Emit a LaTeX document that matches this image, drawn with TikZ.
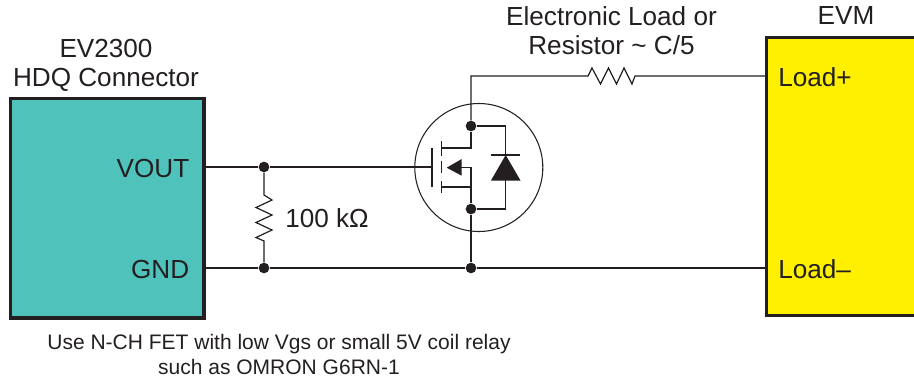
\documentclass[tikz,border=0pt]{standalone}
\usepackage{fontspec}
\setmainfont{Liberation Sans}
\definecolor{ink}{HTML}{231F20}
\definecolor{tealbox}{HTML}{50C2BC}
\definecolor{yellowbox}{HTML}{FFF000}
\begin{document}
\begin{tikzpicture}[x=0.75pt,y=-0.75pt,
  boxstyle/.style={draw=ink,line width=2.6pt,outer sep=0pt,inner sep=0pt,anchor=north west},
  wire/.style={draw=ink,line width=0.9pt},
  devline/.style={draw=ink,line width=1pt},
  dot/.style={circle,fill=ink,inner sep=0pt,minimum size=8pt},
  biglabel/.style={font=\fontsize{19.6pt}{23pt}\selectfont,text=ink,inner sep=0pt},
  smalllabel/.style={font=\fontsize{15.75pt}{18pt}\selectfont,text=ink,inner sep=0pt}]
\useasboundingbox (0,0) rectangle (914,379);
% boxes
\node[boxstyle,fill=tealbox,minimum width=145pt,minimum height=164.5pt] (hdq) at (10.5,98.5) {};
\path[fill=yellowbox] (767,38) rectangle (914,315);
\draw[draw=ink,line width=2.6pt] (914,37.5) -- (766.5,37.5) -- (766.5,315.5) -- (914,315.5);
\coordinate (evmP) at (766,76);
\coordinate (evmM) at (766,268);
\coordinate (hdqV) at (204,167);
\coordinate (hdqG) at (204,268);
% titles
\node[biglabel] (t1) at (106,49) {EV2300};
\node[biglabel] (t2) at (106,79.5) {HDQ Connector};
\node[biglabel] (t3) at (611.5,16) {Electronic Load or};
\node[biglabel] (t4) at (611.5,45) {Resistor \char`\~{} C/5};
\node[biglabel] (t5) at (846,16) {EVM};
\node[biglabel,anchor=east] (vout) at (189.5,168) {VOUT};
\node[biglabel,anchor=east] (gnd) at (189.5,269) {GND};
\node[biglabel,anchor=west] (lp) at (778,77) {Load+};
\node[biglabel,anchor=west] (lm) at (778,269) {Load–};
\node[biglabel,anchor=west] (rv) at (285,218) {100 kΩ};
\node[smalllabel] (n1) at (279,344) {Use N-CH FET with low Vgs or small 5V coil relay};
\node[smalllabel] (n2) at (279,367) {such as OMRON G6RN-1};
% junctions
\node[dot] (j1) at (264,167) {};
\node[dot] (j2) at (264,268) {};
\node[dot] (j3) at (471,268) {};
\node[dot] (d1) at (471,126) {};
\node[dot] (d2) at (471,209) {};
\coordinate (corner) at (471,76);
\coordinate (gatein) at (432,167);
% wires
\draw[wire] (hdqV) -- (j1) -- (gatein);
\draw[wire] (hdqG) -- (j2) -- (j3) -- (evmM);
\draw[wire] (j1) -- (264,195) -- (272,200) -- (256,207.5) -- (272,215) -- (256,222.5) -- (272,230) -- (256,237.5) -- (264,241) -- (j2);
\draw[wire] (d1) -- (corner) -- (588,76) -- (592,68) -- (600.5,84) -- (608.5,68) -- (616.5,84) -- (624,68) -- (632,84) -- (635,76) -- (evmP);
% MOSFET
\node[draw=ink,line width=0.8pt,circle,minimum size=96pt,inner sep=0pt] (fet) at (478.8,167.5) {};
\draw[devline] (432,148) -- (432,187);
\draw[devline] (441.7,141) -- (441.7,156);
\draw[devline] (441.7,161) -- (441.7,173);
\draw[devline] (441.7,181) -- (441.7,193);
\draw[devline] (441.7,148) -- (471,148) -- (d1);
\draw[devline] (441.7,187) -- (471,187);
\draw[devline] (455,167.7) -- (471,167.7) -- (d2);
\draw[devline] (d2) -- (j3);
\fill[ink] (446.7,167.7) -- (461.7,159) -- (461.7,175.7) -- cycle;
% diode
\draw[devline] (d1) -- (505.7,126) -- (505.7,155);
\draw[devline] (d2) -- (505.7,209) -- (505.7,180);
\draw[devline] (491,155) -- (520,155);
\fill[ink] (505.7,155) -- (520.5,180.5) -- (491,180.5) -- cycle;
\end{tikzpicture}
\end{document}
